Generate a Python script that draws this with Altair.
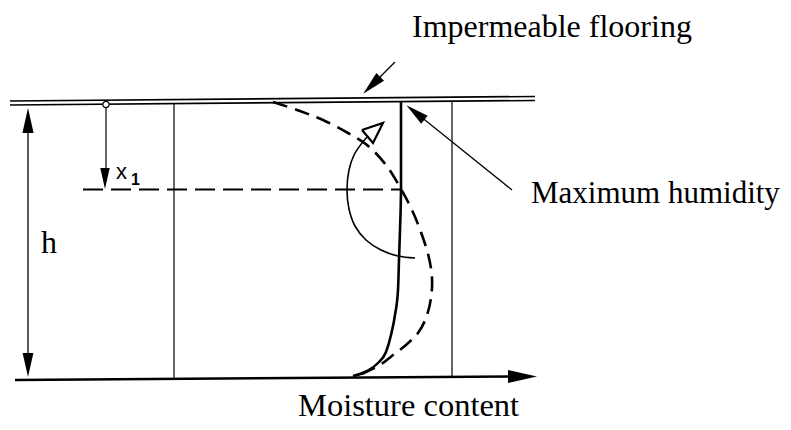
import altair as alt
import pandas as pd

# ---------------- data (page pixel coordinates) ----------------
# straight segments: id, x-start, y-start, x-end, y-end
seg_ids = ["floor_top", "floor_bottom", "axis_bottom", "h_arrow", "x1_arrow",
           "vline_left", "vline_right", "lead_floor", "lead_humid"]
seg_x0 = [10, 10, 15, 28, 106, 174, 452, 395, 512]
seg_y0 = [101, 105, 380, 112, 108, 104, 101, 62, 190]
seg_x1 = [535, 535, 512, 28, 106, 174, 452, 372, 415]
seg_y1 = [96.5, 100.5, 376.5, 372, 180, 379, 377, 85, 112]
seg_width = [1.7, 1.7, 2.6, 1.3, 1.2, 1.2, 1.2, 1.2, 1.2]

# horizontal dashed level line at depth x1
level_x = [83, 401]
level_y = [189.5, 189.5]

# solid moisture profile
solid_x = [401, 401, 400, 399, 398, 395, 391, 386, 378, 367, 353]
solid_y = [101, 190, 230, 260, 290, 315, 335, 352, 363, 371, 376]

# dashed moisture profile
dash_x = [273, 300, 325, 348, 367, 386, 401, 412, 422, 429, 432, 431, 426, 418, 406, 393, 380, 366, 356]
dash_y = [102, 111, 121, 133, 145, 165, 189, 210, 235, 258, 278, 298, 318, 333, 345, 355, 365, 372, 376]

# curved arrow (arc) and its open head
arc_x = [415, 398, 381, 366, 355, 349, 347, 349, 354, 362, 368]
arc_y = [258, 256, 250, 240, 226, 209, 190, 170, 155, 143, 136]
tri_x = [362, 383, 373, 362]
tri_y = [130, 123, 143, 130]

# filled arrow heads: centre x, centre y, rotation (deg, clockwise from up), length
head_x = [522.5, 28, 28, 105, 371.7, 415.4]
head_y = [376.5, 120.5, 365, 178.5, 85.3, 112.5]
head_angle = [90, 0, 180, 180, 225, 308.7]
head_len = [29, 25, 24, 21, 24, 23]

# small circle marking the origin of x1
circ_x = [106]
circ_y = [104.5]

# serif labels
lab_text = ["Impermeable flooring", "Maximum humidity", "Moisture content", "h"]
lab_x = [412, 531, 298, 41]
lab_y = [37, 203, 416, 253]
lab_size = [32, 31, 32.5, 32]

# x1 label
x_text = ["x"]
x_x = [116]
x_y = [179]
sub_text = ["1"]
sub_x = [131]
sub_y = [185]

# ---------------- build the chart ----------------
XS = alt.Scale(domain=[8, 783], nice=False, zero=False)
YS = alt.Scale(domain=[8, 422], nice=False, zero=False, reverse=True)


def X(f="x"):
    return alt.X(f"{f}:Q", scale=XS, axis=None)


def Y(f="y"):
    return alt.Y(f"{f}:Q", scale=YS, axis=None)


def poly(xs, ys):
    return pd.DataFrame({"x": xs, "y": ys, "o": list(range(len(xs)))})


layers = []

# straight segments (each its own layer so it keeps its width)
for i, sid in enumerate(seg_ids):
    df = pd.DataFrame({"x": [seg_x0[i], seg_x1[i]], "y": [seg_y0[i], seg_y1[i]], "o": [0, 1]})
    layers.append(
        alt.Chart(df).mark_line(color="black", strokeWidth=seg_width[i], strokeCap="butt")
        .encode(x=X(), y=Y(), order="o:Q")
    )

layers.append(
    alt.Chart(poly(level_x, level_y)).mark_line(color="black", strokeWidth=2.2, strokeDash=[20, 8])
    .encode(x=X(), y=Y(), order="o:Q")
)
layers.append(
    alt.Chart(poly(solid_x, solid_y)).mark_line(color="black", strokeWidth=2.6, interpolate="monotone")
    .encode(x=X(), y=Y(), order="o:Q")
)
layers.append(
    alt.Chart(poly(dash_x, dash_y)).mark_line(color="black", strokeWidth=2.6, strokeDash=[15, 8],
                                              interpolate="catmull-rom")
    .encode(x=X(), y=Y(), order="o:Q")
)
layers.append(
    alt.Chart(poly(arc_x, arc_y)).mark_line(color="black", strokeWidth=1.6, interpolate="catmull-rom")
    .encode(x=X(), y=Y(), order="o:Q")
)
layers.append(
    alt.Chart(poly(tri_x, tri_y)).mark_line(color="black", strokeWidth=2.2, strokeJoin="miter")
    .encode(x=X(), y=Y(), order="o:Q")
)

heads = pd.DataFrame({"x": head_x, "y": head_y, "angle": head_angle,
                      "size": [v * v for v in head_len]})
layers.append(
    alt.Chart(heads).mark_point(shape="M0,-1L0.45,1L-0.45,1Z", filled=True, color="black",
                                opacity=1, strokeWidth=0)
    .encode(x=X(), y=Y(), angle=alt.Angle("angle:Q", scale=None), size=alt.Size("size:Q", scale=None))
)

layers.append(
    alt.Chart(pd.DataFrame({"x": circ_x, "y": circ_y})).mark_point(
        shape="circle", size=40, filled=True, fill="white", stroke="black", strokeWidth=1.2, opacity=1)
    .encode(x=X(), y=Y())
)

for t, x, y, s in zip(lab_text, lab_x, lab_y, lab_size):
    layers.append(
        alt.Chart(pd.DataFrame({"t": [t], "x": [x], "y": [y]})).mark_text(
            font="Liberation Serif", fontSize=s, align="left", baseline="alphabetic", color="black")
        .encode(x=X(), y=Y(), text="t:N")
    )
layers.append(
    alt.Chart(pd.DataFrame({"t": x_text, "x": x_x, "y": x_y})).mark_text(
        font="Liberation Sans", fontSize=22, align="left", baseline="alphabetic", color="black")
    .encode(x=X(), y=Y(), text="t:N")
)
layers.append(
    alt.Chart(pd.DataFrame({"t": sub_text, "x": sub_x, "y": sub_y})).mark_text(
        font="Liberation Sans", fontSize=16, fontWeight="bold", align="left", baseline="alphabetic",
        color="black")
    .encode(x=X(), y=Y(), text="t:N")
)

chart = alt.layer(*layers).properties(
    width=775, height=414, padding=0, autosize=alt.AutoSizeParams(type="none"),
    background="white"
).configure_view(stroke=None)

chart.save("out.html", embed_options={"renderer": "svg", "actions": False})
